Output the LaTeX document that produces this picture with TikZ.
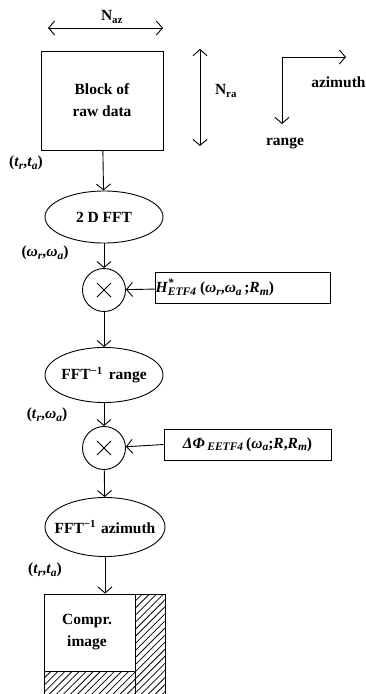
\documentclass[tikz,border=0pt]{standalone}
\usepackage{fontspec}
\setmainfont{Liberation Serif}
\usetikzlibrary{arrows.meta,shapes.geometric,patterns.meta}
\newcommand{\vi}[1]{\textit{#1}}
\newcommand{\sbs}[1]{\raisebox{-0.35ex}{\fontsize{11.5}{12}\selectfont\itshape #1}}
\newcommand{\sps}[1]{\raisebox{0.9ex}{\fontsize{11.5}{12}\selectfont\itshape #1}}
\begin{document}
\begin{tikzpicture}[x=1pt,y=-1pt,line width=0.9pt,
  >={Straight Barb[length=6pt,width=14pt]},
  font=\fontsize{15.5}{22}\selectfont\bfseries,
  proc/.style={draw,ellipse,inner sep=0pt},
  mult/.style={draw,circle,minimum size=43pt,inner sep=0pt},
  filt/.style={draw,rectangle,minimum height=31pt,inner sep=0pt},
  hatch/.style={pattern={Lines[angle=45,distance=5pt,line width=0.8pt]}}]
\clip (0,0) rectangle (366,694);

% input block and its sizes
\node[draw,minimum width=122pt,minimum height=99pt,align=center] (raw) at (102,100.5) {Block of\\raw data};
\coordinate (az1) at (48,28);
\coordinate (az2) at (163,28);
\draw[<->] (az1) -- (az2);
\node (naz) at (112,17) {N\textsubscript{az}};
\coordinate (ra1) at (200,49);
\coordinate (ra2) at (200,146);
\draw[<->] (ra1) -- (ra2);
\node (nra) at (226,91) {N\textsubscript{ra}};

% directions
\coordinate (ax) at (282,57);
\coordinate (axaz) at (346,57);
\coordinate (axra) at (282,124);
\draw[->] (ax) -- (axaz);
\draw[->] (ax) -- (axra);
\node[anchor=east,inner sep=0pt] (azim) at (366,82) {azimuth};
\node (rng) at (285,143) {range};

% processing chain
\node[proc,minimum width=118pt,minimum height=52pt,label=center:{2 D FFT}] (fft) at (104,217) {};
\node[mult] (m1) at (104,290) {};
\node[proc,minimum width=118pt,minimum height=55pt,label=center:{FFT\textsuperscript{−1}\hspace{6pt}range}] (ifr) at (104,375) {};
\node[mult] (m2) at (104,448) {};
\node[proc,minimum width=120pt,minimum height=59pt,label=center:{FFT\textsuperscript{−1}\hspace{5pt}azimuth}] (ifa) at (105,527) {};

\foreach \m in {m1,m2}{
  \draw ([shift={(-7,-7)}]\m.center) -- ([shift={(7,7)}]\m.center);
  \draw ([shift={(-7,7)}]\m.center) -- ([shift={(7,-7)}]\m.center);
}

\node[filt,minimum width=175pt,text width=174pt,align=left] (hf) at (242.5,287.5) {\vi{H}\rlap{\sps{*}}\sbs{ETF4}\hspace{4pt}(\vi{ω}\sbs{r},\vi{ω}\sbs{a}\,;\vi{R}\sbs{m})};
\node[filt,minimum width=167pt] (dp) at (247.5,444.5) {\vi{ΔΦ}\,\sbs{EETF4}\hspace{3pt}(\vi{ω}\sbs{a};\vi{R},\vi{R}\sbs{m})};

\draw[->] (raw) -- (fft);
\draw[->] (fft) -- (m1);
\draw[->] (hf) -- (m1);
\draw[->] (m1) -- (ifr);
\draw[->] (ifr) -- (m2);
\draw[->] (dp.west) -- (m2);
\draw[->] (m2) -- (ifa);

\node (v1) at (26,163) {(\vi{t}\sbs{r},\vi{t}\sbs{a})};
\node (v2) at (45,253) {(\vi{ω}\sbs{r},\vi{ω}\sbs{a})};
\node (v3) at (47,415) {(\vi{t}\sbs{r},\vi{ω}\sbs{a})};
\node (v4) at (45,570) {(\vi{t}\sbs{r},\vi{t}\sbs{a})};

% output image with discarded parts
\fill[hatch] (135,594) rectangle (165,700);
\fill[hatch] (44,671) rectangle (135,700);
\node[draw,minimum width=121pt,minimum height=106pt,inner sep=0pt] (img) at (104.5,647) {};
\draw (135,594) -- (135,700);
\draw (44,671) -- (135,671);
\node[align=center] (imgtxt) at (87,632) {Compr.\\image};
\draw[->] (ifa) -- (ifa |- img.north);
\end{tikzpicture}
\end{document}
